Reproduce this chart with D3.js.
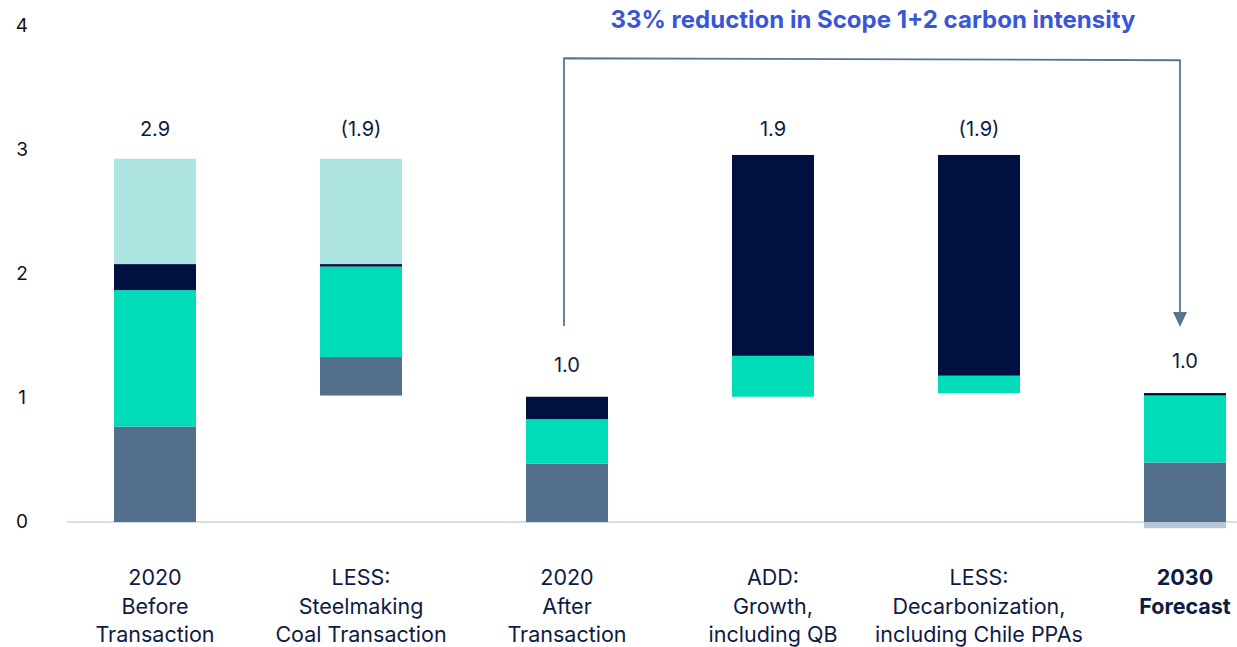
<html>
<script src="https://d3js.org/d3.v7.js"></script>
<body style="margin:0;background:#fff;">
<svg id="chart" width="1237" height="647"></svg>
<script>
    // categories along the x axis (each label split into lines)
    let categories = ["2020 Before Transaction", "LESS: Steelmaking Coal Transaction", "2020 After Transaction",
        "ADD: Growth, including QB", "LESS: Decarbonization, including Chile PPAs", "2030 Forecast"];
    let categoryLines = [["2020", "Before", "Transaction"], ["LESS:", "Steelmaking", "Coal Transaction"],
        ["2020", "After", "Transaction"], ["ADD:", "Growth,", "including QB"],
        ["LESS:", "Decarbonization,", "including Chile PPAs"], ["2030", "Forecast"]];

    // where floating bars start, then the stacked segments from bottom to top
    let bases = [0, 1.02, 0, 1.01, 1.04, 0];
    let slate = [0.77, 0.31, 0.47, 0, 0, 0.48];
    let teal = [1.10, 0.73, 0.36, 0.33, 0.14, 0.54];
    let navy = [0.21, 0.02, 0.18, 1.62, 1.78, 0.02];
    let cyan = [0.85, 0.85, 0, 0, 0, 0];
    let belowZero = [0, 0, 0, 0, 0, -0.05];

    let valueLabels = ["2.9", "(1.9)", "1.0", "1.9", "(1.9)", "1.0"];
    let yTicks = [0, 1, 2, 3, 4];

    // bracket annotation, in data units
    let bracketFrom = 2, bracketTo = 5;
    let bracketLow = 1.58, bracketHigh = 3.74;
    let title = "33% reduction in Scope 1+2 carbon intensity";

    let colors = {slate: "#546f8c", teal: "#00dbb8", navy: "#001141", cyan: "#ade5e3", below: "#b8c6d6"};
    let font = "Inter, sans-serif";

    let svg = d3.select("#chart");
    let x = d3.scalePoint().domain(categories).range([155, 1185]);
    let y = d3.scaleLinear().domain([0, 4]).range([522, 26]);
    let barW = 82;

    // zero line
    svg.append("line")
        .attr("x1", 67).attr("x2", 1237)
        .attr("y1", y(0)).attr("y2", y(0))
        .attr("stroke", "#d5dee8").attr("stroke-width", 2);

    // y tick labels
    svg.selectAll(".ytick").data(yTicks).join("text")
        .attr("class", "ytick")
        .attr("x", 22).attr("y", d => y(d) + 1)
        .attr("text-anchor", "middle").attr("dominant-baseline", "middle")
        .style("font-family", font).style("font-size", "19px").attr("fill", "#111")
        .text(d => d);

    // build segments
    let segs = [];
    categories.forEach((c, i) => {
        let cur = bases[i];
        [["slate", slate], ["teal", teal], ["navy", navy], ["cyan", cyan]].forEach(([k, arr]) => {
            if (arr[i] > 0) {
                segs.push({cat: c, y0: cur, y1: cur + arr[i], color: colors[k]});
                cur += arr[i];
            }
        });
        if (belowZero[i] < 0) segs.push({cat: c, y0: belowZero[i], y1: 0, color: colors.below});
    });

    svg.selectAll(".seg").data(segs).join("rect")
        .attr("class", "seg")
        .attr("x", d => x(d.cat) - barW / 2)
        .attr("width", barW)
        .attr("y", d => y(d.y1))
        .attr("height", d => y(d.y0) - y(d.y1))
        .attr("fill", d => d.color);

    // value labels above bars
    let tops = categories.map((c, i) => bases[i] + slate[i] + teal[i] + navy[i] + cyan[i]);
    svg.selectAll(".vlab").data(categories).join("text")
        .attr("class", "vlab")
        .attr("x", d => x(d))
        .attr("y", (d, i) => Math.max(y(tops[i]) - 30, y(3.16)))
        .attr("text-anchor", "middle").attr("dominant-baseline", "middle")
        .style("font-family", font).style("font-size", "20px").attr("fill", "#0d1b45")
        .text((d, i) => valueLabels[i]);

    // category labels
    let cl = svg.selectAll(".clab").data(categories).join("text")
        .attr("class", "clab")
        .attr("text-anchor", "middle")
        .style("font-family", font).style("font-size", "21.5px").attr("fill", "#0d1b45")
        .style("font-weight", (d, i) => i === 5 ? "bold" : "normal");
    cl.each(function (d, i) {
        d3.select(this).selectAll("tspan").data(categoryLines[i]).join("tspan")
            .attr("x", x(d))
            .attr("y", (t, j) => 585 + j * 28.5)
            .text(t => t);
    });

    // bracket with arrow
    let bx0 = x(categories[bracketFrom]) - 3, bx1 = x(categories[bracketTo]) - 5;
    svg.append("path")
        .attr("d", `M${bx0},${y(bracketLow)} L${bx0},${y(bracketHigh)} L${bx1},${y(bracketHigh) + 2} L${bx1},${y(bracketLow) - 12}`)
        .attr("fill", "none").attr("stroke", "#5a7490").attr("stroke-width", 1.8);
    svg.append("path")
        .attr("d", `M${bx1 - 7},${y(bracketLow) - 14} L${bx1 + 7},${y(bracketLow) - 14} L${bx1},${y(bracketLow) + 1} Z`)
        .attr("fill", "#5a7490");

    svg.append("text")
        .attr("x", (bx0 + bx1) / 2 + 1).attr("y", 28)
        .attr("text-anchor", "middle")
        .style("font-family", font).style("font-size", "24px").style("font-weight", "bold")
        .attr("fill", "#3a56d8")
        .text(title);
</script>
</body>
</html>
